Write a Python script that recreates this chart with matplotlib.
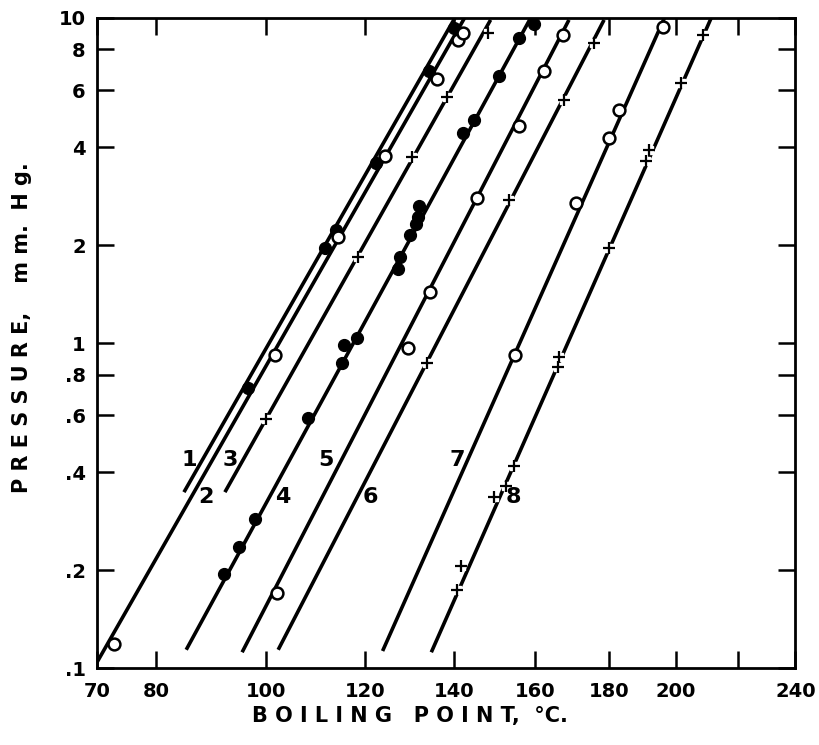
import numpy as np
import matplotlib
matplotlib.use('agg')
import matplotlib.pyplot as plt
from matplotlib.ticker import NullLocator, FixedLocator

# boiling point axis is reciprocal absolute temperature
def fwd(t):
    return -1.0 / (np.asarray(t, dtype=float) + 273.15)

def inv(u):
    with np.errstate(divide='ignore'):
        return -1.0 / np.asarray(u, dtype=float) - 273.15

# straight lines (low end, high end)
line_ids = ['1', '2', '3', '4', '5', '6', '7', '8']
line_t_low = [84.8, 70.0, 92.2, 85.2, 95.4, 102.3, 123.8, 134.7]
line_p_low = [0.348, 0.104, 0.348, 0.114, 0.112, 0.114, 0.113, 0.112]
line_t_high = [140.2, 142.5, 148.8, 158.9, 169.0, 178.7, 196.4, 211.1]
line_p_high = [10.0, 10.0, 9.86, 10.0, 9.86, 9.86, 10.0, 10.0]
line_marker = ['filled', 'open', 'plus', 'filled', 'open', 'plus', 'open', 'plus']

# measured points
t1 = [96.5, 111.7, 114.0, 122.3, 134.2, 139.9]
p1 = [0.727, 1.96, 2.23, 3.58, 6.87, 9.32]
t2 = [72.8, 101.7, 114.4, 124.4, 136.1, 141.0, 142.0]
p2 = [0.119, 0.92, 2.12, 3.76, 6.49, 8.56, 9.00]
t3 = [100.0, 118.6, 130.4, 138.3, 148.1]
p3 = [0.585, 1.84, 3.74, 5.71, 9.00]
t4 = [92.0, 94.8, 97.9, 108.1, 115.2, 115.6, 118.4, 127.1, 127.7, 129.8,
      131.1, 131.6, 131.8, 142.0, 144.7, 150.8, 155.9, 159.7]
p4 = [0.195, 0.236, 0.287, 0.588, 0.870, 0.986, 1.04, 1.69, 1.84, 2.15,
      2.33, 2.44, 2.64, 4.43, 4.86, 6.63, 8.68, 9.58]
t5 = [102.1, 129.5, 134.5, 145.6, 155.9, 162.3, 167.4]
p5 = [0.170, 0.967, 1.44, 2.79, 4.65, 6.87, 8.86]
t6 = [133.8, 153.3, 167.6, 175.9]
p6 = [0.866, 2.75, 5.59, 8.38]
t7 = [154.8, 170.9, 180.1, 183.0, 196.0]
p7 = [0.92, 2.69, 4.27, 5.21, 9.38]
t8 = [140.8, 141.6, 149.6, 152.6, 154.6, 166.0, 166.4, 180.1, 190.9, 191.8, 201.6, 208.5]
p8 = [0.174, 0.206, 0.336, 0.363, 0.418, 0.847, 0.909, 1.96, 3.63, 3.93, 6.31, 8.86]

x_ticks = [70, 80, 100, 120, 140, 160, 180, 200, 240]
y_ticks = [0.1, 0.2, 0.4, 0.6, 0.8, 1, 2, 4, 6, 8, 10]
y_ticklabels = ['.1', '.2', '.4', '.6', '.8', '1', '2', '4', '6', '8', '10']

pts_t = [t1, t2, t3, t4, t5, t6, t7, t8]
pts_p = [p1, p2, p3, p4, p5, p6, p7, p8]

# label positions in axes fraction
label_pos = [(0.133, 0.32), (0.156, 0.263), (0.191, 0.32), (0.266, 0.263),
             (0.328, 0.32), (0.391, 0.263), (0.516, 0.32), (0.596, 0.263)]

plt.rcParams['font.family'] = 'DejaVu Sans'
plt.rcParams['font.weight'] = 'bold'

fig = plt.figure(figsize=(8.2, 7.45), dpi=100)
ax = fig.add_axes([0.118, 0.103, 0.852, 0.873])
ax.set_xscale('function', functions=(fwd, inv))
ax.set_yscale('log')

for i in range(8):
    ax.plot([line_t_low[i], line_t_high[i]], [line_p_low[i], line_p_high[i]],
            color='black', lw=2.6, solid_capstyle='butt', zorder=2)
    kind = line_marker[i]
    if kind == 'filled':
        ax.plot(pts_t[i], pts_p[i], 'o', ms=8.5, mfc='black', mec='black', zorder=3)
    elif kind == 'open':
        ax.plot(pts_t[i], pts_p[i], 'o', ms=8.5, mfc='white', mec='black', mew=1.8, zorder=3)
    else:
        ax.plot(pts_t[i], pts_p[i], 's', ms=6, mfc='white', mec='white', zorder=3)
        ax.plot(pts_t[i], pts_p[i], '+', ms=8, mec='black', mew=1.6, zorder=4)
    ax.text(label_pos[i][0], label_pos[i][1], line_ids[i], transform=ax.transAxes,
            fontsize=16, fontweight='bold', ha='center', va='center')

ax.set_xlim(70, 240)
ax.set_ylim(0.1, 10)
ax.set_xticks(x_ticks)
ax.set_xticklabels([str(v) for v in x_ticks])
ax.xaxis.set_minor_locator(FixedLocator([220]))
ax.set_yticks(y_ticks)
ax.set_yticklabels(y_ticklabels)
ax.yaxis.set_minor_locator(NullLocator())

ax.tick_params(which='both', direction='in', length=12, width=1.8,
               top=True, right=True, labelsize=14)
ax.tick_params(axis='x', pad=10)
ax.tick_params(axis='y', pad=8)
for s in ax.spines.values():
    s.set_linewidth(2)

ax.set_xlabel('B O I L I N G   P O I N T,  °C.', fontsize=15, fontweight='bold')
ax.xaxis.set_label_coords(0.448, -0.058)
ax.set_ylabel('P R E S S U R E,    m m.  H g.', fontsize=15, fontweight='bold')
ax.yaxis.set_label_coords(-0.093, 0.523)

fig.savefig('out.png', dpi=100)
